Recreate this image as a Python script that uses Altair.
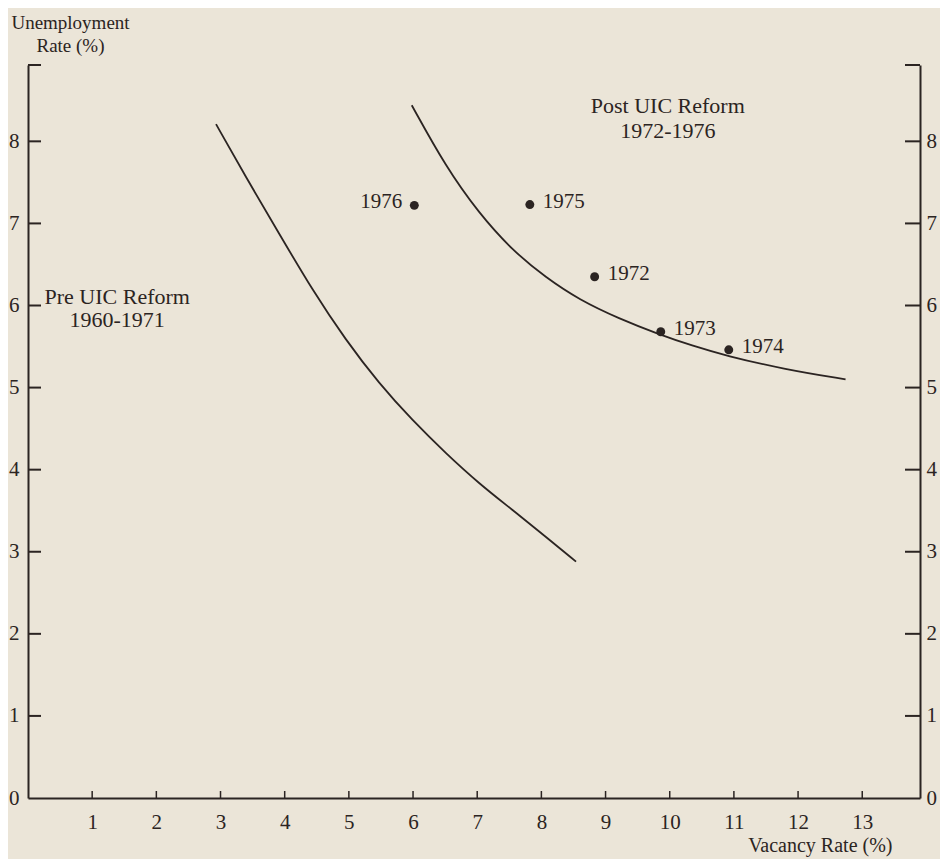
import altair as alt
import pandas as pd

# ---- data ----
X_MAX = 13.9
Y_MAX = 8.93

x_ticks = list(range(1, 14))
y_ticks = list(range(0, 9))

years = ["1976", "1975", "1972", "1973", "1974"]
vacancy = [6.02, 7.82, 8.83, 9.86, 10.92]
unemployment = [7.22, 7.23, 6.35, 5.68, 5.46]
label_side = ["left", "right", "right", "right", "right"]

pre_v = [2.93, 3.39, 3.91, 4.43, 4.95, 5.47, 5.99, 6.51, 7.03, 7.55, 8.07, 8.54]
pre_u = [8.21, 7.57, 6.88, 6.19, 5.58, 5.05, 4.60, 4.20, 3.83, 3.51, 3.18, 2.88]

post_v = [5.98, 6.51, 7.03, 7.55, 8.07, 8.59, 9.21, 9.83, 10.35, 10.87, 11.80, 12.74]
post_u = [8.44, 7.69, 7.12, 6.67, 6.34, 6.07, 5.84, 5.65, 5.51, 5.39, 5.22, 5.10]

annotations = ["Pre UIC Reform", "1960-1971", "Post UIC Reform", "1972-1976"]
ann_v = [1.39, 1.39, 9.97, 9.97]
ann_u = [6.10, 5.82, 8.43, 8.12]

# ---- style ----
INK = "#2b2422"
BG = "#ebe5d8"
FONT = "Liberation Serif"
FS = 21
W, H = 892, 733

xs = alt.Scale(domain=[0, X_MAX], nice=False, zero=False)
ys = alt.Scale(domain=[0, Y_MAX], nice=False, zero=False)

curves = pd.DataFrame(
    {"v": pre_v + post_v, "u": pre_u + post_u,
     "curve": ["pre"] * len(pre_v) + ["post"] * len(post_v),
     "i": list(range(len(pre_v))) + list(range(len(post_v)))}
)
pts = pd.DataFrame({"year": years, "v": vacancy, "u": unemployment, "side": label_side})
ann = pd.DataFrame({"t": annotations, "v": ann_v, "u": ann_u})
yt = pd.DataFrame({"y": y_ticks[1:] + [Y_MAX]})
xt = pd.DataFrame({"x": x_ticks})

x_axis = alt.Axis(
    orient="bottom", values=x_ticks, ticks=False, domain=True, domainColor=INK,
    domainWidth=2, grid=False, labelPadding=13, labelFont=FONT, labelFontSize=FS,
    labelColor=INK, title="Vacancy Rate (%)", titleFont=FONT, titleFontSize=20,
    titleFontWeight="normal", titleColor=INK, titleX=864, titleY=47,
    titleAlign="right", titleBaseline="middle",
)
y_axis_left = alt.Axis(
    orient="left", values=y_ticks, ticks=False, domain=True, domainColor=INK,
    domainWidth=2, grid=False, labelPadding=9, labelFont=FONT, labelFontSize=FS,
    labelColor=INK, title=["Unemployment", "Rate (%)"], titleAngle=0,
    titleX=42, titleY=-43, titleAlign="center", titleBaseline="middle",
    titleFont=FONT, titleFontSize=19, titleFontWeight="normal", titleColor=INK,
    titleLineHeight=23,
)
y_axis_right = alt.Axis(
    orient="right", values=y_ticks, ticks=False, domain=True, domainColor=INK,
    domainWidth=2, grid=False, labelPadding=6, labelFont=FONT, labelFontSize=FS,
    labelColor=INK, title=None,
)

line_layer = alt.Chart(curves).mark_line(
    interpolate="basis", color=INK, strokeWidth=1.8
).encode(
    x=alt.X("v:Q", scale=xs, axis=x_axis),
    y=alt.Y("u:Q", scale=ys, axis=y_axis_left),
    detail="curve:N",
    order="i:Q",
)

point_layer = alt.Chart(pts).mark_circle(size=80, color=INK, opacity=1).encode(
    x=alt.X("v:Q", scale=xs, axis=None),
    y=alt.Y("u:Q", scale=ys, axis=None),
)

lab_right = alt.Chart(pts).transform_filter(alt.datum.side == "right").mark_text(
    align="left", baseline="middle", dx=13, dy=-3, font=FONT, fontSize=FS, color=INK
).encode(
    x=alt.X("v:Q", scale=xs, axis=None),
    y=alt.Y("u:Q", scale=ys, axis=None),
    text="year:N",
)
lab_left = alt.Chart(pts).transform_filter(alt.datum.side == "left").mark_text(
    align="right", baseline="middle", dx=-12, dy=-3, font=FONT, fontSize=FS, color=INK
).encode(
    x=alt.X("v:Q", scale=xs, axis=None),
    y=alt.Y("u:Q", scale=ys, axis=None),
    text="year:N",
)

ann_layer = alt.Chart(ann).mark_text(
    align="center", baseline="middle", font=FONT, fontSize=22, color=INK
).encode(
    x=alt.X("v:Q", scale=xs, axis=None),
    y=alt.Y("u:Q", scale=ys, axis=None),
    text="t:N",
)

left_ticks = alt.Chart(yt).mark_rule(color=INK, strokeWidth=2).encode(
    y=alt.Y("y:Q", scale=ys, axis=None),
    x=alt.value(0),
    x2=alt.value(13),
)
right_ticks = alt.Chart(yt).mark_rule(color=INK, strokeWidth=2).encode(
    y=alt.Y("y:Q", scale=ys, axis=y_axis_right),
    x=alt.value(W),
    x2=alt.value(W - 15),
)
bottom_ticks = alt.Chart(xt).mark_rule(color=INK, strokeWidth=1.5).encode(
    x=alt.X("x:Q", scale=xs, axis=None),
    y=alt.value(H),
    y2=alt.value(H - 7),
)

chart = alt.layer(
    line_layer, point_layer, lab_right, lab_left, ann_layer,
    left_ticks, right_ticks, bottom_ticks,
).resolve_axis(y="independent", x="independent").properties(
    width=W, height=H,
    autosize=alt.AutoSizeParams(type="none"),
    padding={"left": 20, "top": 57, "right": 20, "bottom": 61},
).configure(background=BG, font=FONT).configure_view(stroke=None)

chart.save("out.html", embed_options={"renderer": "svg", "actions": False})
